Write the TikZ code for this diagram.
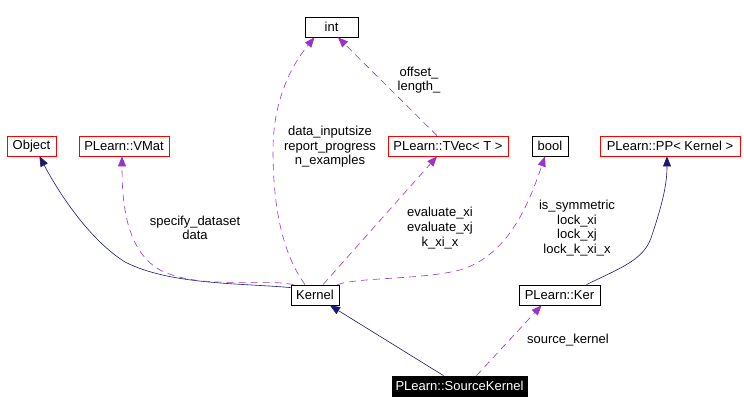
\documentclass[tikz,border=0pt]{standalone}
\usepackage{fontspec}
\setmainfont{Liberation Sans}
\usetikzlibrary{arrows.meta,calc}
\definecolor{navy}{RGB}{25,25,112}
\definecolor{purp}{RGB}{154,50,205}
\begin{document}
\begin{tikzpicture}[x=1pt,y=-1pt,
  every node/.style={font=\fontsize{13}{14.6}\selectfont},
  box/.style={draw=black, fill=white, minimum height=20pt, inner sep=0pt, line width=0.8pt},
  redbox/.style={box, draw=red},
  lbl/.style={align=center, inner sep=0pt},
  inh/.style={draw=navy, line width=0.6pt, -{Triangle[length=10pt,width=8pt]}},
  use/.style={draw=purp, line width=0.6pt, dash pattern=on 7pt off 5pt, -{Triangle[length=10pt,width=8pt]}}]
\useasboundingbox (0,0) rectangle (744,412);
\node[box, minimum width=53pt] (int) at (331.5,27) {int};
\node[redbox, minimum width=49pt] (obj) at (31.5,146) {Object};
\node[redbox, minimum width=90pt] (vmat) at (124,146) {PLearn::VMat};
\node[redbox, minimum width=120pt] (tvec) at (448,146) {PLearn::TVec< T >};
\node[box, minimum width=36pt] (bool) at (550,146) {bool};
\node[redbox, minimum width=140pt] (pp) at (670,146) {PLearn::PP< Kernel >};
\node[box, minimum width=48pt] (kernel) at (315,295) {Kernel};
\node[box, minimum width=81pt] (ker) at (559.5,295) {PLearn::Ker};
\node[box, fill=black, text=white, minimum width=135pt] (src) at (459.5,386) {PLearn::SourceKernel};

\draw[inh] ($(kernel.north west)+(0,3)$) .. controls (240,283) and (170,285) .. (125,262) .. controls (90,240) and (60,195) .. ($(obj.south)+(8,0)$);
\draw[use] ($(kernel.north west)+(3,0)$) .. controls (260,278) and (200,290) .. (160,270) .. controls (125,250) and (122,200) .. ($(vmat.south)+(-2,0)$);
\draw[use] ($(kernel.north)+(-10,0)$) .. controls (280,250) and (273,200) .. (273,150) .. controls (273,90) and (300,55) .. ($(int.south)+(-17,0)$);
\draw[use] ($(tvec.north)+(-11,0)$) -- ($(int.south)+(6.5,0)$);
\draw[use] ($(kernel.north)+(8,0)$) -- ($(tvec.south)+(-11,0)$);
\draw[use] ($(kernel.north east)+(-2,0)$) .. controls (360,277) and (420,280) .. (460,270) .. controls (510,255) and (530,200) .. ($(bool.south)+(-5,0)$);
\draw[inh] ($(ker.north)+(27,0)$) .. controls (620,268) and (645,260) .. (652,235) .. controls (662,205) and (667,185) .. ($(pp.south)+(-3,0)$);
\draw[inh] ($(src.north)+(-16,0)$) -- ($(kernel.south)+(15,0)$);
\draw[use] ($(src.north)+(17,0)$) -- ($(ker.south)+(-18,0)$);

\node[lbl] (l1) at (419,80) {offset\_\\length\_};
\node[lbl] (l2) at (330,147) {data\_inputsize\\report\_progress\\n\_examples};
\node[lbl] (l3) at (195,228) {specify\_dataset\\data};
\node[lbl] (l4) at (440,228) {evaluate\_xi\\evaluate\_xj\\k\_xi\_x};
\node[lbl] (l5) at (577,228) {is\_symmetric\\lock\_xi\\lock\_xj\\lock\_k\_xi\_x};
\node[lbl] (l6) at (568,340) {source\_kernel};
\end{tikzpicture}
\end{document}
